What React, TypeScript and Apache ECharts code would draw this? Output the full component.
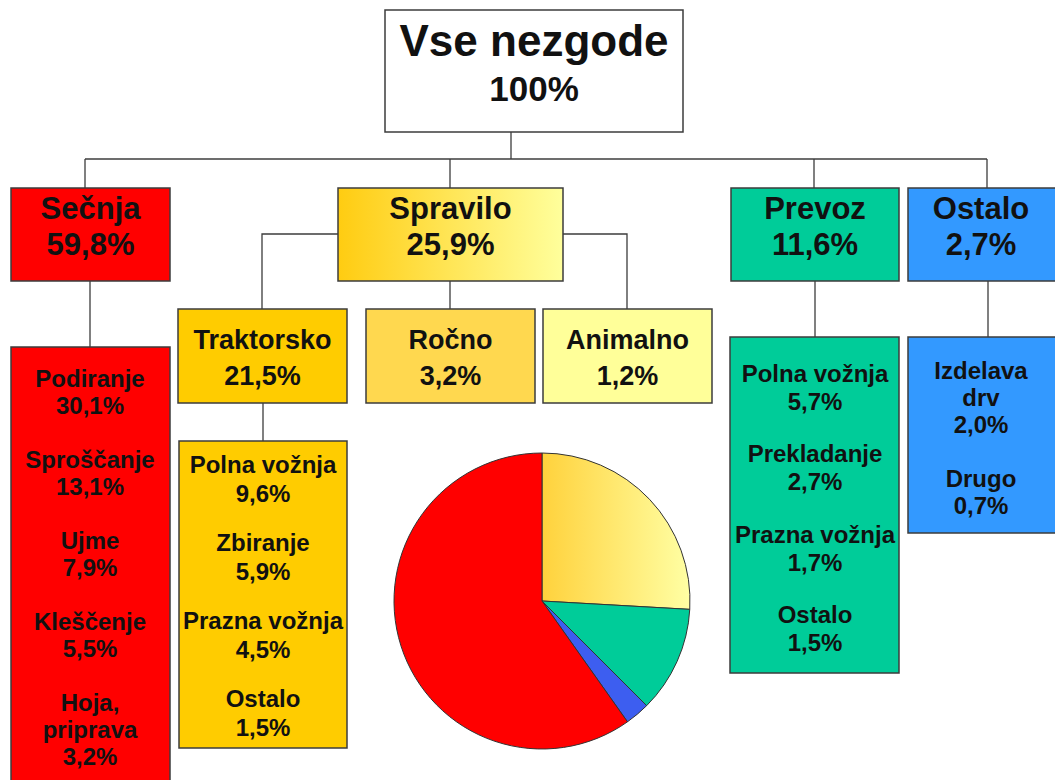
import React, { useEffect, useRef } from "react";
import * as echarts from "echarts";

// ---- data ----
const rootName = "Vse nezgode";
const rootValue = 100;
const groupNames = ["Sečnja", "Spravilo", "Prevoz", "Ostalo"];
const groupValues = [59.8, 25.9, 11.6, 2.7];
const spraviloNames = ["Traktorsko", "Ročno", "Animalno"];
const spraviloValues = [21.5, 3.2, 1.2];
const secnjaItems = ["Podiranje", "Sproščanje", "Ujme", "Kleščenje", "Hoja,\npriprava"];
const secnjaValues = [30.1, 13.1, 7.9, 5.5, 3.2];
const traktorskoItems = ["Polna vožnja", "Zbiranje", "Prazna vožnja", "Ostalo"];
const traktorskoValues = [9.6, 5.9, 4.5, 1.5];
const prevozItems = ["Polna vožnja", "Prekladanje", "Prazna vožnja", "Ostalo"];
const prevozValues = [5.7, 2.7, 1.7, 1.5];
const ostaloItems = ["Izdelava\ndrv", "Drugo"];
const ostaloValues = [2.0, 0.7];

const FONT = "'Liberation Sans', Arial, sans-serif";
const STROKE = "#3c3c3c";
const fmt = (v: number) => v.toFixed(1).replace(".", ",") + "%";

const spraviloGrad = () =>
  new echarts.graphic.LinearGradient(0, 0, 1, 0, [
    { offset: 0, color: "#ffcc11" },
    { offset: 1, color: "#ffff9c" },
  ]);

function txt(x: number, y: number, text: string, size: number): any {
  return {
    type: "text",
    x,
    y,
    z: 10,
    style: {
      text,
      fontSize: size,
      fontWeight: "bold",
      fontFamily: FONT,
      fill: "#111",
      align: "center",
      verticalAlign: "middle",
      textAlign: "center",
      textVerticalAlign: "middle",
    },
  };
}

function box(x: number, y: number, w: number, h: number, fill: any): any {
  return {
    type: "rect",
    z: 5,
    shape: { x, y, width: w, height: h },
    style: { fill, stroke: STROKE, lineWidth: 1.5 },
  };
}

function line(points: number[][]): any {
  return {
    type: "polyline",
    z: 4,
    shape: { points },
    style: { stroke: STROKE, lineWidth: 1.3, fill: null },
  };
}

// list of items laid out in a column
function list(cx: number, y0: number, lh: number, gap: number, names: string[], vals: number[], size: number): any[] {
  const out: any[] = [];
  let y = y0;
  names.forEach((n, i) => {
    const lines = [...n.split("\n"), fmt(vals[i])];
    lines.forEach((l, j) => {
      out.push(txt(cx, y, l, size));
      if (j < lines.length - 1) y += lh;
    });
    y += gap;
  });
  return out;
}

export default function App() {
  const ref = useRef<HTMLDivElement>(null);
  useEffect(() => {
    if (!ref.current) return;
    const chart = echarts.init(ref.current, undefined, { renderer: "svg" });

    const graphics: any[] = [];
    // connectors
    graphics.push(line([[511, 132], [511, 159]]));
    graphics.push(line([[85, 159], [987, 159]]));
    [85, 450, 814, 987].forEach((x) => graphics.push(line([[x, 159], [x, 188]])));
    graphics.push(line([[338, 234], [262, 234], [262, 309]]));
    graphics.push(line([[563, 234], [627, 234], [627, 309]]));
    graphics.push(line([[450, 281], [450, 309]]));
    graphics.push(line([[90, 281], [90, 347]]));
    graphics.push(line([[263, 403], [263, 441]]));
    graphics.push(line([[815, 281], [815, 337]]));
    graphics.push(line([[988, 281], [988, 337]]));

    // root
    graphics.push(box(385, 10, 298, 122, "#ffffff"));
    graphics.push(txt(534, 40, rootName, 44));
    graphics.push(txt(534, 88, rootValue + "%", 35));

    // level 1
    const l1 = [
      { x: 11, w: 159, fill: "#ff0000" },
      { x: 338, w: 225, fill: spraviloGrad() },
      { x: 731, w: 168, fill: "#00cc99" },
      { x: 908, w: 160, fill: "#3399ff" },
    ];
    l1.forEach((b, i) => {
      graphics.push(box(b.x, 188, b.w, 93, b.fill));
      const cx = i === 3 ? 981 : b.x + b.w / 2;
      graphics.push(txt(cx, 208, groupNames[i], 31));
      graphics.push(txt(cx, 244, fmt(groupValues[i]), 31));
    });

    // level 2 (Spravilo)
    const l2 = [
      { x: 178, fill: "#ffcc00" },
      { x: 366, fill: "#ffd84f" },
      { x: 543, fill: "#ffff99" },
    ];
    l2.forEach((b, i) => {
      graphics.push(box(b.x, 309, 169, 94, b.fill));
      graphics.push(txt(b.x + 84.5, 340, spraviloNames[i], 27));
      graphics.push(txt(b.x + 84.5, 376, fmt(spraviloValues[i]), 27));
    });

    // sub lists
    graphics.push(box(11, 347, 159, 460, "#ff0000"));
    graphics.push(...list(90, 378, 27, 54, secnjaItems, secnjaValues, 24));
    graphics.push(box(179, 441, 168, 307, "#ffcc00"));
    graphics.push(...list(263, 464, 29.5, 48.5, traktorskoItems, traktorskoValues, 24));
    graphics.push(box(730, 337, 169, 336, "#00cc99"));
    graphics.push(...list(815, 373, 28, 52.5, prevozItems, prevozValues, 24));
    graphics.push(box(908, 337, 160, 196, "#3399ff"));
    graphics.push(...list(981, 370, 27, 54, ostaloItems, ostaloValues, 24));

    const pieColors = [
      "#ff0000",
      new echarts.graphic.LinearGradient(0, 0, 1, 0, [
        { offset: 0, color: "#ffd23c" },
        { offset: 1, color: "#ffffa4" },
      ]),
      "#00cc99",
      "#3d5ef0",
    ];
    const pieOrder = [1, 2, 3, 0];

    chart.setOption({
      animation: false,
      backgroundColor: "#ffffff",
      graphic: graphics,
      series: [
        {
          type: "pie",
          center: [542, 601],
          radius: 148,
          startAngle: 90,
          clockwise: true,
          label: { show: false },
          labelLine: { show: false },
          emphasis: { disabled: true },
          itemStyle: { borderColor: "#333", borderWidth: 1 },
          data: pieOrder.map((i) => ({
            name: groupNames[i],
            value: groupValues[i],
            itemStyle: { color: pieColors[i] },
          })),
        },
      ],
    });
    return () => chart.dispose();
  }, []);
  return (
    <div
      ref={ref}
      style={{ position: "fixed", left: 0, top: 0, width: 1055, height: 780 }}
    />
  );
}
